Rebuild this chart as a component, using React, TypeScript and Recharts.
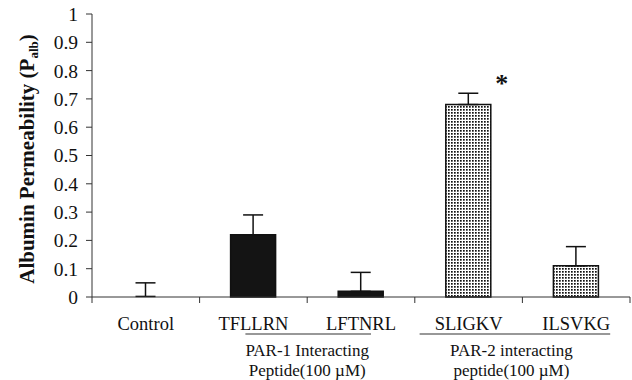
import { BarChart, Bar, XAxis, YAxis, ErrorBar, Cell, LabelList, Label } from "recharts";

const categories = ["Control", "TFLLRN", "LFTNRL", "SLIGKV", "ILSVKG"];
const permeability = [0.002, 0.22, 0.02, 0.68, 0.11];
const errorUpper = [0.048, 0.07, 0.067, 0.04, 0.068];
const significance = ["", "", "", "*", ""];
const fillKind = ["none", "solid", "solid", "dots", "dots"];
const yTicks = [0, 0.1, 0.2, 0.3, 0.4, 0.5, 0.6, 0.7, 0.8, 0.9, 1];

const groups = [
  { first: 1, last: 2, lines: ["PAR-1 Interacting", "Peptide(100 \u00b5M)"] },
  { first: 3, last: 4, lines: ["PAR-2 interacting", "peptide(100 \u00b5M)"] },
];

// chart layout
const W = 632;
const H = 380;
const MARGIN = { top: 14, right: 2, left: 0, bottom: 0 };
const Y_AXIS_W = 92;
const PLOT_W = W - MARGIN.left - MARGIN.right - Y_AXIS_W;
const FONT = '"Liberation Serif", "Times New Roman", serif';
// underline extents / text shift per group, in px
const groupLayout = [
  { lineLeft: 8, lineRight: 10, shift: 0 },
  { lineLeft: 49, lineRight: 34, shift: -11 },
];

const data = categories.map((name, i) => ({
  name,
  value: permeability[i],
  err: [0, errorUpper[i]],
  sig: significance[i],
}));

function CategoryTick(props: any) {
  const { x, y, payload, index } = props;
  const band = PLOT_W / categories.length;
  const left = x - band / 2;
  const gi = groups.findIndex((g) => g.first === index);
  const g = groups[gi];
  let groupEl = null;
  if (g) {
    const lay = groupLayout[gi];
    const c2 = x + (g.last - g.first) * band;
    const mid = (x + c2) / 2 + lay.shift;
    groupEl = (
      <g>
        <line x1={x - lay.lineLeft} x2={c2 + lay.lineRight} y1={y + 37} y2={y + 37} stroke="#333" strokeWidth={1.2} />
        {g.lines.map((t, k) => (
          <text key={k} x={mid} y={y + 59 + k * 20} textAnchor="middle" fontFamily={FONT} fontSize={17} fill="#111">
            {t}
          </text>
        ))}
      </g>
    );
  }
  return (
    <g>
      <line x1={left} x2={left} y1={y} y2={y + 6} stroke="#333" />
      {index === categories.length - 1 && (
        <line x1={left + band} x2={left + band} y1={y} y2={y + 6} stroke="#333" />
      )}
      <text x={x} y={y + 33} textAnchor="middle" fontFamily={FONT} fontSize={18.5} fill="#111">
        {payload.value}
      </text>
      {groupEl}
    </g>
  );
}

function YTitle(props: any) {
  const vb = props.viewBox || { x: 0, y: 0, width: 0, height: 0 };
  const cx = vb.x + 34;
  const cy = 159;
  return (
    <text
      x={cx}
      y={cy}
      transform={`rotate(-90, ${cx}, ${cy})`}
      textAnchor="middle"
      fontFamily={FONT}
      fontSize={21}
      fontWeight="bold"
      fill="#111"
    >
      Albumin Permeability (P
      <tspan fontSize={13} dy={4}>alb</tspan>
      <tspan dy={-4}>)</tspan>
    </text>
  );
}

function SigMark(props: any) {
  const { x, y, width, value } = props;
  if (!value) return null;
  return (
    <text x={x + width + 11} y={y - 13} textAnchor="middle" fontFamily={FONT} fontSize={26} fontWeight="bold" fill="#111">
      {value}
    </text>
  );
}

export default function App() {
  return (
    <div style={{ position: "absolute", left: 0, top: 0, background: "#fff" }}>
      <BarChart width={W} height={H} data={data} margin={MARGIN} barSize={45}>
        <defs>
          <pattern id="dots" patternUnits="userSpaceOnUse" width={3} height={3}>
            <rect x={0} y={0} width={3} height={3} fill="#fff" />
            <rect x={1} y={1} width={1.7} height={1.7} fill="#111" />
          </pattern>
        </defs>
        <XAxis
          dataKey="name"
          height={83}
          interval={0}
          tickLine={false}
          tickSize={0}
          tickMargin={0}
          axisLine={{ stroke: "#333" }}
          tick={<CategoryTick />}
        />
        <YAxis
          width={Y_AXIS_W}
          domain={[0, 1]}
          ticks={yTicks}
          interval={0}
          tickLine={{ stroke: "#333" }}
          tickMargin={8}
          axisLine={{ stroke: "#333" }}
          tick={{ fontFamily: FONT, fontSize: 19.5, fill: "#111" }}
        >
          <Label content={<YTitle />} />
        </YAxis>
        <Bar dataKey="value" isAnimationActive={false} stroke="#111" strokeWidth={1.5}>
          {data.map((d, i) => (
            <Cell
              key={d.name}
              fill={fillKind[i] === "dots" ? "url(#dots)" : fillKind[i] === "solid" ? "#141414" : "none"}
              stroke={fillKind[i] === "none" ? "none" : "#111"}
            />
          ))}
          <ErrorBar dataKey="err" width={10} stroke="#111" strokeWidth={1.5} direction="y" />
          <LabelList dataKey="sig" content={<SigMark />} />
        </Bar>
      </BarChart>
    </div>
  );
}
